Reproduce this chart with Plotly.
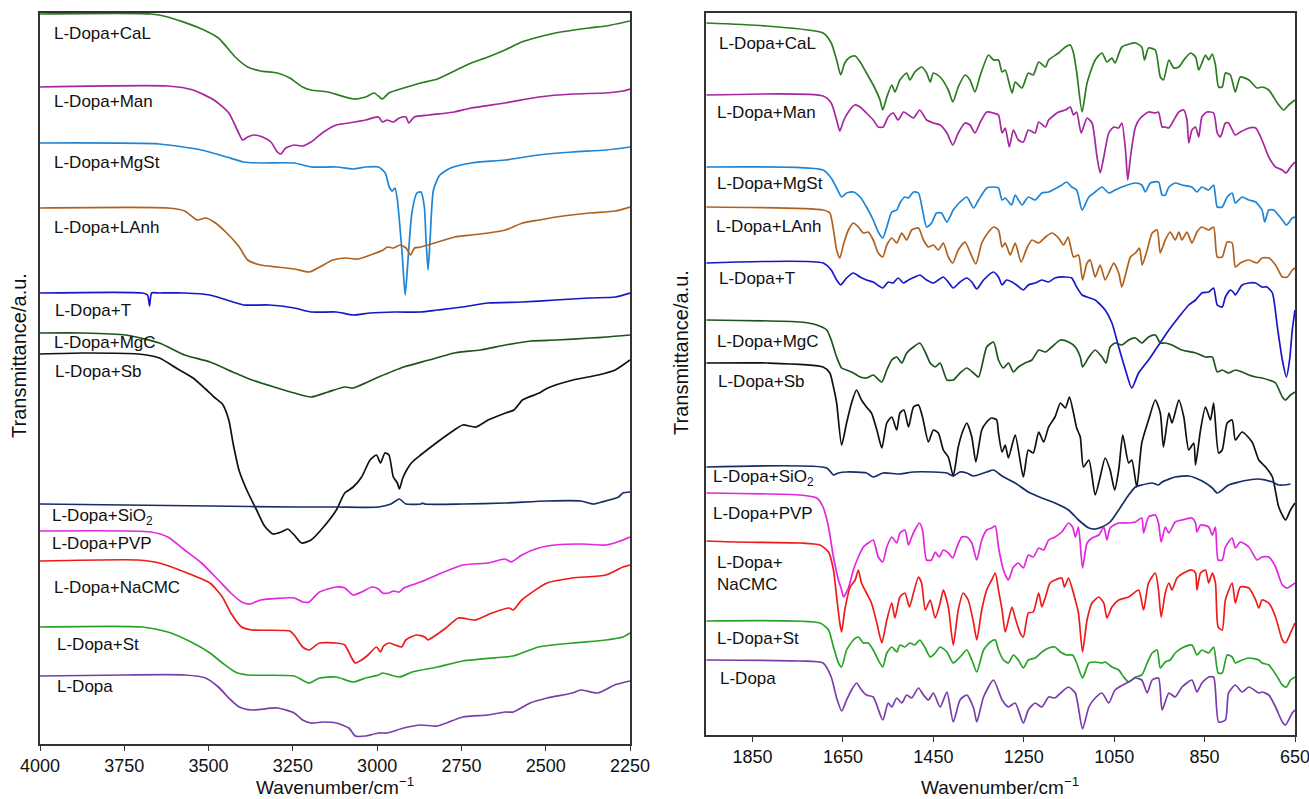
import plotly.graph_objects as go

# ---------------- LEFT PANEL (4000-2250 cm-1) : (wavenumber, transmittance a.u.) ----------------
L_CAL = [(4000,730),(3671,730),(3621,727),(3534,717),(3471,706),(3421,687),(3384,677),(3346,673),(3296,671),(3259,666),(3221,657),(3196,654),(3146,652),(3071,645),(3034,647),(3009,651),(2990,646),(2984,645),(2965,651),(2921,656),(2871,661),(2821,665),(2771,673),(2721,681),(2671,687),(2621,694),(2571,702),(2521,707),(2471,711),(2371,716),(2321,718),(2250,723)]
L_MAN = [(4000,657),(3621,658),(3546,654),(3484,644),(3440,631),(3415,614),(3399,604),(3384,607),(3365,609),(3340,607),(3315,602),(3296,592),(3286,590),(3271,596),(3246,599),(3221,598),(3196,602),(3159,612),(3121,619),(3084,621),(3034,624),(2996,627),(2984,622),(2971,624),(2952,622),(2934,626),(2915,627),(2906,621),(2890,627),(2846,629),(2771,632),(2721,636),(2621,641),(2521,647),(2421,650),(2321,651),(2271,653),(2250,655)]
L_MGST = [(4000,601),(3646,600),(3521,594),(3446,587),(3396,582),(3346,581),(3246,581),(3196,577),(3121,577),(3071,575),(3034,577),(2996,577),(2976,571),(2964,557),(2955,553),(2947,556),(2940,544),(2926,491),(2917,449),(2910,477),(2897,531),(2882,551),(2870,552),(2860,537),(2855,504),(2849,474),(2843,504),(2833,554),(2814,569),(2782,576),(2721,581),(2621,584),(2521,589),(2421,592),(2321,594),(2250,597)]
L_LANH = [(4000,536),(3621,536),(3571,533),(3534,524),(3509,526),(3484,522),(3446,511),(3409,497),(3384,484),(3346,479),(3296,477),(3246,475),(3201,472),(3170,477),(3132,484),(3095,486),(3057,485),(3020,489),(2982,494),(2970,497),(2951,496),(2932,499),(2914,496),(2901,489),(2889,496),(2870,497),(2820,502),(2770,507),(2720,509),(2670,511),(2619,514),(2569,521),(2519,524),(2469,527),(2369,531),(2294,533),(2250,537)]
L_T = [(4000,451),(3696,451),(3681,449),(3675,438),(3669,451),(3646,451),(3571,451),(3496,449),(3446,444),(3396,439),(3321,439),(3246,436),(3196,432),(3121,432),(3071,429),(3021,431),(2946,432),(2871,432),(2821,434),(2746,437),(2671,441),(2571,442),(2471,444),(2371,446),(2294,447),(2250,451)]
L_MGC = [(4000,411),(3871,411),(3746,409),(3646,401),(3571,389),(3496,382),(3421,371),(3371,364),(3296,356),(3246,351),(3196,347),(3146,352),(3096,357),(3071,356),(2996,367),(2921,377),(2846,384),(2771,391),(2694,394),(2619,399),(2544,403),(2469,404),(2369,406),(2319,407),(2250,409)]
L_SB = [(4000,390),(3871,391),(3709,390),(3646,386),(3596,376),(3546,366),(3509,355),(3484,347),(3459,340),(3440,324),(3427,300),(3409,273),(3384,252),(3359,235),(3334,218),(3309,210),(3284,212),(3265,215),(3246,209),(3224,201),(3196,204),(3159,217),(3121,234),(3096,251),(3071,257),(3046,267),(3021,284),(3002,289),(2990,281),(2977,291),(2965,289),(2952,267),(2940,261),(2934,255),(2924,266),(2909,276),(2896,282),(2871,289),(2821,302),(2771,314),(2746,319),(2707,317),(2671,324),(2619,331),(2594,334),(2569,344),(2519,351),(2494,356),(2419,364),(2344,369),(2294,374),(2250,384)]
L_SIO2 = [(4000,240),(3496,238),(3246,237),(3121,237),(2996,237),(2959,240),(2934,245),(2915,240),(2871,240),(2865,241),(2859,240),(2746,240),(2621,241),(2496,243),(2396,243),(2359,240),(2334,242),(2284,247),(2271,251),(2250,252)]
L_PVP = [(4000,213),(3671,212),(3621,207),(3571,194),(3521,181),(3471,164),(3434,151),(3402,142),(3377,140),(3346,144),(3246,146),(3221,142),(3202,142),(3171,152),(3121,157),(3096,156),(3071,149),(3046,152),(3015,157),(2996,155),(2984,151),(2965,151),(2952,153),(2934,152),(2921,156),(2871,162),(2809,171),(2746,179),(2671,181),(2621,185),(2602,182),(2571,189),(2521,196),(2471,199),(2396,200),(2321,199),(2296,201),(2271,204),(2250,207)]
L_NACMC = [(4000,183),(3709,184),(3646,181),(3571,172),(3496,161),(3459,147),(3434,131),(3402,117),(3371,114),(3259,113),(3246,109),(3221,97),(3202,94),(3171,101),(3121,101),(3096,99),(3077,87),(3065,81),(3046,84),(3027,89),(3002,97),(2990,92),(2981,98),(2965,101),(2946,99),(2927,97),(2915,104),(2884,109),(2859,107),(2849,104),(2834,107),(2796,116),(2759,126),(2709,124),(2659,131),(2609,136),(2596,134),(2571,144),(2496,161),(2421,166),(2321,169),(2271,177),(2250,179)]
L_ST = [(4000,117),(3696,117),(3621,112),(3546,101),(3496,91),(3459,81),(3421,72),(3384,69),(3246,68),(3202,61),(3171,66),(3121,67),(3071,62),(3034,66),(2996,69),(2984,71),(2934,67),(2896,72),(2821,77),(2746,83),(2621,87),(2596,88),(2521,97),(2421,101),(2321,104),(2271,107),(2250,111)]
L_DOPA = [(4000,68),(3746,69),(3571,69),(3509,66),(3471,57),(3440,46),(3409,37),(3371,34),(3296,36),(3246,31),(3221,24),(3196,21),(3159,22),(3121,21),(3084,16),(3065,8),(3034,8),(2996,11),(2971,11),(2921,16),(2871,19),(2821,18),(2746,27),(2671,29),(2621,32),(2596,32),(2546,41),(2496,46),(2421,51),(2396,54),(2346,51),(2296,59),(2250,63)]

# ---------------- RIGHT PANEL (1950-650 cm-1) ----------------
R_CAL = [(1952,712),(1819,709),(1694,702),(1676,692),(1664,675),(1655,660),(1646,672),(1634,678),(1623,679),(1612,673),(1598,662),(1583,650),(1568,635),(1562,625),(1553,638),(1542,650),(1535,643),(1524,655),(1509,662),(1502,655),(1491,663),(1476,668),(1465,662),(1457,653),(1450,662),(1435,658),(1417,645),(1407,633),(1395,648),(1380,660),(1369,655),(1358,643),(1346,660),(1328,680),(1317,675),
         (1306,675),(1298,663),(1291,665),(1276,642),(1269,653),(1254,647),(1240,662),(1229,660),(1217,673),(1202,668),(1195,675),(1173,682),(1158,688),(1147,690),(1140,682),(1133,663),(1121,623),(1110,652),(1092,675),(1077,682),(1066,673),(1055,677),(1048,672),(1033,688),(1003,692),(989,688),(983,675),(974,687),(959,685),(948,658),(941,655),(929,675),(918,667),(907,668),(896,675),(881,682),(870,678),(863,665),(856,672),(848,680),(841,675),(833,681),(826,670),(819,648),(811,648),(804,662),(793,660),(782,643),(771,658),(752,655),(734,647),(723,648),(708,645),(689,632),(675,625),(664,630),(650,635)]
R_MAN = [(1952,640),(1694,639),(1676,632),(1664,615),(1657,604),(1648,615),(1638,623),(1624,630),(1612,628),(1598,622),(1583,615),(1572,608),(1561,608),(1550,618),(1539,622),(1528,615),(1516,623),(1505,620),(1494,617),(1480,625),(1465,615),(1450,612),(1435,610),(1420,602),(1407,590),(1395,602),(1380,612),(1369,610),(1358,602),(1346,613),(1332,623),(1317,622),
         (1306,620),(1298,602),(1291,607),(1282,588),(1273,605),(1262,595),(1251,593),(1240,605),(1225,602),(1217,613),(1202,608),(1195,615),(1173,623),(1158,625),(1147,628),(1140,620),(1133,623),(1123,602),(1110,617),(1099,612),(1088,578),(1081,562),(1073,578),(1062,602),(1051,608),(1040,607),(1033,612),(1025,585),(1020,555),(1014,578),(1003,608),(992,617),(974,623),(959,622),(952,623),(944,608),(937,608),(929,607),(918,615),(907,623),(896,625),(889,615),(885,592),(878,605),(870,608),(863,598),(856,618),(845,623),(830,622),(822,602),(815,598),(804,612),(797,612),(782,600),(771,603),(752,607),(737,607),(723,595),(708,578),(693,568),(678,565),(670,562),(660,568),(650,573)]
R_MGST = [(1952,568),(1694,565),(1676,557),(1664,547),(1653,538),(1642,542),(1627,543),(1612,538),(1598,528),(1583,515),(1572,503),(1562,497),(1553,508),(1542,523),(1531,525),(1524,532),(1513,538),(1505,537),(1494,543),(1483,542),(1474,525),(1465,508),(1454,512),(1443,522),(1432,522),(1420,513),(1406,525),(1391,533),(1376,538),(1361,527),(1350,535),(1332,547),(1317,548),
          (1306,547),(1298,535),(1291,537),(1277,530),(1269,540),(1254,530),(1240,538),(1225,535),(1210,542),(1195,543),(1166,550),(1155,553),(1144,548),(1133,545),(1121,525),(1106,538),(1092,543),(1077,548),(1062,542),(1048,545),(1033,548),(1003,552),(989,550),(981,543),(970,552),(952,553),(944,540),(937,540),(929,548),(915,552),(900,550),(878,548),(867,543),(856,548),(841,545),(830,550),(822,528),(811,528),(800,538),(789,542),(782,532),(767,538),(752,535),(737,533),(723,525),(717,513),(708,525),(697,525),(678,515),(669,510),(656,517),(650,518)]
R_LANH = [(1952,528),(1694,525),(1679,522),(1671,505),(1664,485),(1657,477),(1648,492),(1638,505),(1627,512),(1616,508),(1605,502),(1594,503),(1583,495),(1572,482),(1562,478),(1553,490),(1542,497),(1531,492),(1520,502),(1509,495),(1498,505),(1483,507),(1472,495),(1461,488),(1450,490),(1439,485),(1428,492),(1417,478),(1407,472),(1395,485),(1380,493),(1369,483),(1356,471),(1343,492),(1328,503),(1317,508),
          (1306,505),(1298,488),(1291,492),(1280,480),(1269,492),(1256,473),(1243,487),(1232,495),(1217,492),(1202,498),(1188,502),(1173,497),(1162,490),(1152,498),(1140,478),(1129,480),(1120,455),(1110,472),(1103,475),(1092,458),(1081,470),(1070,455),(1059,465),(1051,472),(1040,462),(1033,448),(1024,462),(1014,478),(1003,482),(994,487),(988,470),(977,485),(966,502),(955,505),(948,482),(937,495),(926,503),(915,495),(907,503),(900,495),(889,503),(878,492),(867,503),(856,508),(841,505),(830,508),(822,478),(811,478),(800,493),(789,492),(782,468),(771,472),(752,475),(734,472),(723,477),(708,477),(693,470),(678,458),(667,458),(656,465),(650,467)]
R_T = [(1952,472),(1694,472),(1676,465),(1664,455),(1655,450),(1642,457),(1627,462),(1612,458),(1598,455),(1583,453),(1562,447),(1550,453),(1539,452),(1528,457),(1516,452),(1505,455),(1491,458),(1480,460),(1465,455),(1450,452),(1439,455),(1428,458),(1417,453),(1406,447),(1391,453),(1376,457),(1365,453),(1354,446),(1339,455),(1317,463),
       (1306,458),(1298,450),(1288,455),(1276,453),(1266,450),(1251,445),(1240,450),(1225,452),(1210,455),(1195,453),(1181,457),(1158,458),(1144,457),(1133,448),(1121,440),(1110,438),(1092,435),(1070,425),(1055,412),(1040,388),(1025,365),(1011,347),(996,362),(974,375),(959,385),(944,395),(929,405),(907,418),(885,430),(870,435),(856,442),(841,443),(830,447),(822,430),(811,428),(804,438),(793,445),(785,442),(782,440),(767,450),(752,452),(737,452),(723,448),(712,448),(700,442),(689,408),(678,375),(669,358),(662,375),(656,405),(650,425)]
R_MGC = [(1952,415),(1745,413),(1708,410),(1686,405),(1676,395),(1664,378),(1653,367),(1642,365),(1627,362),(1612,358),(1598,357),(1583,360),(1564,353),(1553,365),(1542,375),(1531,378),(1520,372),(1509,382),(1494,388),(1480,392),(1468,383),(1457,372),(1446,368),(1435,372),(1420,355),(1406,355),(1391,362),(1376,367),(1361,362),(1350,358),(1332,388),(1317,393),
         (1306,375),(1295,367),(1284,372),(1273,363),(1262,368),(1247,372),(1232,375),(1217,385),(1202,383),(1188,388),(1169,395),(1151,393),(1136,388),(1125,378),(1120,368),(1106,378),(1092,385),(1077,378),(1068,372),(1059,388),(1048,392),(1033,390),(1018,395),(1003,397),(989,392),(974,398),(959,400),(948,392),(937,392),(922,390),(900,385),(870,382),(848,378),(833,378),(822,363),(811,365),(797,362),(782,365),(767,363),(752,360),(737,358),(723,357),(708,355),(693,352),(678,338),(671,335),(660,340),(650,343)]
R_SB = [(1952,372),(1819,372),(1694,368),(1679,362),(1671,348),(1664,332),(1653,290),(1642,312),(1631,332),(1620,345),(1609,335),(1598,328),(1587,322),(1575,305),(1564,287),(1553,312),(1542,318),(1531,305),(1524,322),(1515,325),(1505,308),(1494,328),(1483,330),(1474,318),(1461,293),(1450,305),(1439,302),(1428,285),(1417,278),(1406,259),(1395,288),(1384,305),(1376,312),(1365,298),(1356,273),(1343,305),(1332,313),(1321,317),(1310,315),
        (1306,302),(1298,283),(1291,290),(1284,277),(1269,300),(1251,258),(1240,285),(1229,282),(1217,303),(1206,293),(1195,308),(1181,318),(1169,332),(1158,327),(1149,338),(1140,322),(1133,307),(1125,298),(1118,268),(1106,275),(1092,240),(1081,258),(1070,277),(1059,265),(1049,245),(1040,265),(1031,300),(1018,272),(1011,275),(1000,248),(989,292),(974,315),(959,335),(948,322),(941,288),(929,322),(922,312),(907,335),(896,318),(885,285),(874,292),(870,270),(859,305),(848,328),(837,315),(830,332),(819,282),(811,285),(800,312),(789,315),(782,295),(767,303),(745,293),(730,275),(715,268),(700,258),(686,228),(671,215),(660,225),(650,232)]
R_SIO2 = [(1952,268),(1686,267),(1671,260),(1660,262),(1642,263),(1598,262),(1583,258),(1561,262),(1524,261),(1494,263),(1450,263),(1420,262),(1406,259),(1391,263),(1376,262),(1361,259),(1332,263),(1317,265),
          (1298,259),(1269,252),(1240,243),(1210,237),(1181,232),(1151,225),(1129,215),(1106,207),(1092,206),(1077,208),(1059,213),(1040,225),(1018,240),(1003,248),(989,250),(966,252),(952,250),(944,253),(915,258),(885,259),(870,257),(848,252),(833,247),(822,242),(811,245),(797,250),(774,253),(752,255),(730,256),(700,253),(686,250),(675,250),(660,251)]
R_PVP = [(1952,242),(1745,240),(1708,237),(1694,228),(1682,208),(1671,178),(1660,155),(1653,145),(1649,138),(1638,147),(1627,165),(1616,178),(1605,188),(1594,192),(1583,195),(1572,178),(1562,173),(1553,188),(1542,198),(1531,192),(1524,202),(1513,205),(1505,190),(1498,198),(1491,205),(1481,212),(1474,205),(1465,175),(1454,175),(1446,183),(1437,178),(1428,185),(1417,182),(1407,177),(1398,188),(1387,198),(1376,198),(1365,192),(1354,175),(1343,195),(1332,205),(1321,207),(1313,209),
         (1306,188),(1295,165),(1284,155),(1273,168),(1262,172),(1251,167),(1240,180),(1229,178),(1217,187),(1206,185),(1195,195),(1181,198),(1166,203),(1151,212),(1142,208),(1136,198),(1129,208),(1120,167),(1110,192),(1099,197),(1084,200),(1073,208),(1066,195),(1059,207),(1040,212),(1018,212),(1003,213),(989,217),(985,202),(974,218),(959,220),(952,212),(946,193),(937,208),(929,202),(915,213),(900,215),(878,217),(870,212),(867,203),(859,210),(841,208),(833,200),(826,208),(820,175),(811,175),(804,188),(789,197),(782,187),(771,193),(752,188),(734,175),(723,178),(708,178),(693,168),(678,150),(667,147),(650,152)]
R_NACMC = [(1952,194),(1886,193),(1745,192),(1701,190),(1682,183),(1671,165),(1664,138),(1657,112),(1653,103),(1646,125),(1634,148),(1623,155),(1616,165),(1609,152),(1598,142),(1587,132),(1575,112),(1564,92),(1553,115),(1542,132),(1535,117),(1524,138),(1513,142),(1503,128),(1494,142),(1483,158),(1476,152),(1468,125),(1457,135),(1446,117),(1435,132),(1428,145),(1417,128),(1406,90),(1395,125),(1384,142),(1373,135),(1361,112),(1354,95),(1343,125),(1332,145),(1321,155),(1313,162),
           (1306,145),(1298,125),(1291,103),(1284,115),(1276,128),(1269,117),(1258,102),(1251,98),(1240,122),(1229,123),(1217,142),(1210,128),(1202,138),(1192,152),(1181,155),(1166,157),(1160,148),(1151,157),(1142,145),(1136,135),(1129,122),(1120,83),(1110,115),(1099,132),(1084,138),(1073,132),(1066,117),(1055,128),(1040,135),(1018,138),(996,145),(985,125),(974,152),(959,162),(952,145),(946,118),(937,142),(929,152),(922,145),(911,157),(892,163),(878,165),(870,162),(867,145),(859,162),(848,165),(841,152),(833,162),(826,152),(820,108),(811,105),(804,135),(789,152),(782,132),(771,148),(752,147),(737,135),(730,127),(723,135),(708,132),(693,118),(678,95),(671,92),(660,102),(650,112)]
R_ST = [(1952,114),(1701,112),(1682,105),(1671,88),(1660,72),(1653,68),(1642,85),(1627,95),(1616,98),(1605,92),(1594,92),(1583,85),(1572,75),(1562,68),(1553,82),(1542,88),(1531,83),(1524,90),(1513,88),(1502,92),(1491,90),(1480,95),(1468,87),(1457,78),(1446,82),(1435,88),(1420,83),(1406,72),(1391,78),(1376,85),(1365,75),(1354,63),(1339,85),(1324,93),(1313,95),
        (1306,85),(1295,75),(1284,72),(1273,80),(1262,75),(1251,67),(1240,75),(1225,77),(1210,83),(1195,87),(1181,88),(1169,83),(1155,80),(1142,80),(1133,72),(1120,57),(1106,72),(1092,73),(1077,72),(1070,73),(1055,68),(1040,65),(1029,58),(1018,53),(1003,58),(989,60),(977,72),(966,82),(955,85),(948,67),(937,73),(926,75),(915,82),(900,87),(878,90),(867,80),(856,85),(841,82),(830,88),(820,62),(811,62),(800,80),(789,78),(782,72),(767,75),(752,77),(730,75),(723,72),(708,70),(689,58),(678,50),(669,48),(660,55),(650,58)]
R_DOPA = [(1952,75),(1745,74),(1694,72),(1676,58),(1664,37),(1653,24),(1642,35),(1631,45),(1620,52),(1609,45),(1598,40),(1583,38),(1562,15),(1550,32),(1542,28),(1531,37),(1520,32),(1509,40),(1498,37),(1483,47),(1472,40),(1461,35),(1450,42),(1435,28),(1420,43),(1406,13),(1391,35),(1376,40),(1361,27),(1354,13),(1339,38),(1317,55),
          (1298,35),(1284,28),(1269,32),(1251,12),(1240,25),(1225,32),(1210,28),(1195,38),(1181,37),(1166,43),(1151,48),(1136,42),(1120,6),(1106,28),(1092,37),(1077,42),(1062,32),(1048,45),(1018,53),(1003,57),(989,55),(977,42),(966,55),(952,57),(944,25),(929,42),(915,38),(900,48),(878,55),(867,43),(856,52),(841,58),(830,58),(819,13),(804,15),(797,42),(782,50),(767,43),(752,48),(730,42),(723,43),(708,40),(693,28),(678,13),(671,10),(656,22),(650,25)]

SERIES_NAMES = ["L-Dopa+CaL", "L-Dopa+Man", "L-Dopa+MgSt", "L-Dopa+LAnh", "L-Dopa+T", "L-Dopa+MgC",
                "L-Dopa+Sb", "L-Dopa+SiO<sub>2</sub>", "L-Dopa+PVP", "L-Dopa+NaCMC", "L-Dopa+St", "L-Dopa"]
LEFT_DATA = [L_CAL, L_MAN, L_MGST, L_LANH, L_T, L_MGC, L_SB, L_SIO2, L_PVP, L_NACMC, L_ST, L_DOPA]
RIGHT_DATA = [R_CAL, R_MAN, R_MGST, R_LANH, R_T, R_MGC, R_SB, R_SIO2, R_PVP, R_NACMC, R_ST, R_DOPA]
COLORS = ["#2b7c20", "#a7259f", "#1d85d6", "#b1611e", "#1717c9", "#1c561c",
          "#111111", "#182c68", "#e326df", "#ee1b1b", "#27a327", "#7a3dac"]

LEFT_TICKS = [4000, 3750, 3500, 3250, 3000, 2750, 2500, 2250]
RIGHT_TICKS = [1850, 1650, 1450, 1250, 1050, 850, 650]

# label positions (pixels in the 1309x799 page)
LEFT_LABEL_POS = [(52, 33), (52, 101), (52, 163), (52, 227), (53, 310), (52, 342), (53, 371),
                  (50, 517), (50, 543), (52, 587), (55, 644), (55, 686)]
RIGHT_LABEL_TEXT = ["L-Dopa+CaL", "L-Dopa+Man", "L-Dopa+MgSt", "L-Dopa+LAnh", "L-Dopa+T", "L-Dopa+MgC",
                    "L-Dopa+Sb", "L-Dopa+SiO<sub>2</sub>", "L-Dopa+PVP", "L-Dopa+<br>NaCMC", "L-Dopa+St", "L-Dopa"]
RIGHT_LABEL_POS = [(717, 43), (715, 112), (715, 183), (714, 226), (717, 278), (715, 341), (716, 382),
                   (711, 478), (711, 513), (715, 573), (715, 638), (718, 678)]

W, H = 1309, 799
FONT = "Liberation Sans, Arial, Helvetica, sans-serif"

fig = go.Figure()
for data, col, name in zip(LEFT_DATA, COLORS, SERIES_NAMES):
    fig.add_trace(go.Scatter(x=[p[0] for p in data], y=[p[1] for p in data], mode="lines",
                             line=dict(color=col, width=1.7, shape="spline", smoothing=0.6),
                             name=name, xaxis="x", yaxis="y", hoverinfo="skip"))
for data, col, name in zip(RIGHT_DATA, COLORS, SERIES_NAMES):
    fig.add_trace(go.Scatter(x=[p[0] for p in data], y=[p[1] for p in data], mode="lines",
                             line=dict(color=col, width=1.7, shape="spline", smoothing=0.6),
                             name=name, xaxis="x2", yaxis="y2", hoverinfo="skip"))

def px(x):
    return x / W

def py(y):
    return 1 - y / H

axis_common = dict(showline=True, linecolor="#333333", linewidth=1.5, mirror=True,
                   showgrid=False, zeroline=False, automargin=False)
fig.update_layout(
    width=W, height=H, margin=dict(l=0, r=0, t=0, b=0, autoexpand=False),
    paper_bgcolor="white", plot_bgcolor="white", showlegend=False,
    font=dict(family=FONT, color="#111111"),
    xaxis=dict(domain=[px(40), px(630)], range=[4000, 2250], tickvals=LEFT_TICKS,
               ticks="outside", ticklen=5, tickwidth=1.2, tickcolor="#333333",
               ticklabeloverflow="allow",
               tickfont=dict(size=18, family=FONT, color="#111111"), anchor="y", **axis_common),
    yaxis=dict(domain=[py(744), py(13)], range=[0, 731], showticklabels=False, ticks="",
               anchor="x", **axis_common),
    xaxis2=dict(domain=[px(706), px(1295)], range=[1953, 650], tickvals=RIGHT_TICKS,
                ticks="outside", ticklen=5, tickwidth=1.2, tickcolor="#333333",
                ticklabeloverflow="allow",
                tickfont=dict(size=18, family=FONT, color="#111111"), anchor="y2", **axis_common),
    yaxis2=dict(domain=[py(735), py(13)], range=[0, 722], showticklabels=False, ticks="",
                anchor="x2", **axis_common),
)

ann = []
for (x, y), t in zip(LEFT_LABEL_POS, SERIES_NAMES):
    ann.append(dict(x=px(x), y=py(y), xref="paper", yref="paper", text=t, showarrow=False,
                    xanchor="left", yanchor="middle", font=dict(size=17, family=FONT, color="#111111")))
for (x, y), t in zip(RIGHT_LABEL_POS, RIGHT_LABEL_TEXT):
    ann.append(dict(x=px(x), y=py(y), xref="paper", yref="paper", text=t, showarrow=False,
                    xanchor="left", yanchor="middle", align="left",
                    font=dict(size=17, family=FONT, color="#111111")))
# axis titles
for cx in (335, 1000):
    ann.append(dict(x=px(cx), y=py(786), xref="paper", yref="paper", text="Wavenumber/cm<sup>−1</sup>",
                    showarrow=False, xanchor="center", yanchor="middle",
                    font=dict(size=19, family=FONT, color="#111111")))
for cx, cy in ((19, 356), (681, 353)):
    ann.append(dict(x=px(cx), y=py(cy), xref="paper", yref="paper", text="Transmittance/a.u.",
                    showarrow=False, textangle=-90, xanchor="center", yanchor="middle",
                    font=dict(size=20, family=FONT, color="#111111")))
fig.update_layout(annotations=ann)

fig.write_html("out.html", config={"displayModeBar": False})
